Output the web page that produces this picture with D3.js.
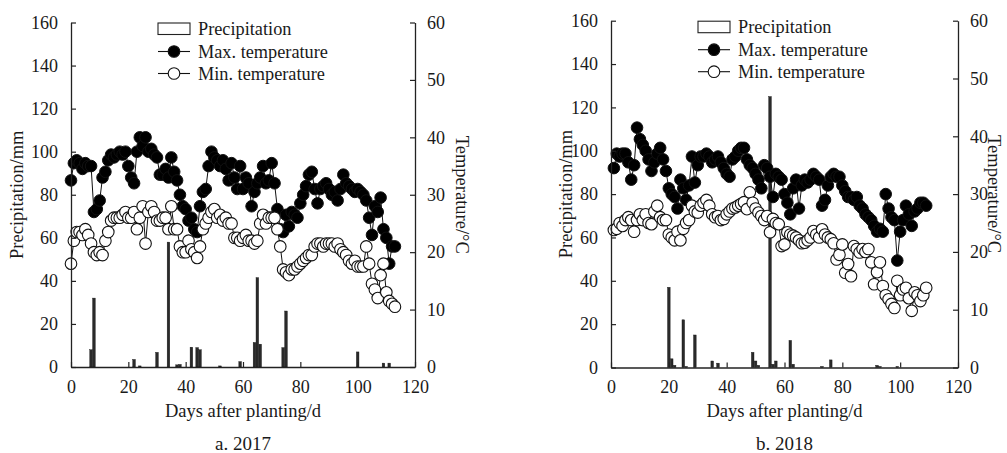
<!DOCTYPE html>
<html><head><meta charset="utf-8">
<script src="https://cdn.jsdelivr.net/npm/d3@7"></script>
<style>
body{margin:0;background:#fff}
svg{display:block}
text{font-family:"Liberation Serif","Times New Roman",serif;fill:#1a1a1a}
</style>
</head><body>
<svg id="chart" width="1007" height="453"></svg>
<script>
// ---------- data ----------
const xTickValues = [0, 20, 40, 60, 80, 100, 120];
const precipTickValues = [0, 20, 40, 60, 80, 100, 120, 140, 160];
const tempTickValues = [0, 10, 20, 30, 40, 50, 60];
const legendLabels = ["Precipitation", "Max. temperature", "Min. temperature"];
const xAxisTitle = "Days after planting/d";
const leftAxisTitle = "Precipitation/mm";
const rightAxisTitle = "Temperature/°C";

// 2017 (first day = 0)
const firstDay2017 = 0;
const maxTemp2017 = [32.5,35.5,36,35.5,34.5,35.5,35,35,27,27.5,29,33,34,36,37,36.5,37,37.5,37,37.5,
  35,33,32,37.5,40,38.5,40,37.5,38,37,36.5,33.5,33.5,34.5,33,36.5,34,32.5,30,28,
  27.5,25.5,26,24,23.5,28,30.5,31,35,37.5,36.5,36,35,36,34.5,32.5,35.5,33,31,35,
  31,33,32,28,30.5,32,33,35,32,32.5,35.5,32,27.5,24,23.5,26.5,24.5,27,26.5,26,
  28.5,30,31.5,33.5,34,31,28.5,31,31.5,32,31,30,30.5,29,31,33.5,32,31.5,31,30.5,
  31,30.5,30,29,26,23,28,27,29.5,24,22.5,18,21,21];
const minTemp2017 = [18,22,23.5,23.5,23,24,23,21.5,20,19.5,20,19.5,22,23.5,25.5,26,26,26,26.5,27,
  26,26,27,24,26,28,21.5,27,28,27,25.5,25.5,26,26,24,28,24,24,21,20,
  20,22,20.5,20,19,21,24,25,26,27,27.5,26,26.5,25.5,26,25,25,22.5,22.5,22,
  22.5,23,22,22,21.5,22,25,26.5,25,26,26,26,24,21,17,16.5,16,17,17,17.5,
  18,18.5,19,19.5,19.5,21,21.5,21.5,21,21.5,21.5,21.5,21,21.5,20.5,20,19.5,18.5,18,18.5,
  17.5,17.5,17.5,21,18,14.5,13.5,12,16,18,13,11.5,11,10.5];
const precipDays2017 = [7, 8, 22, 24, 30, 34, 37, 38, 42, 44, 45, 52, 59, 64, 65, 66, 74, 75, 100, 109, 111];
const precipMm2017   = [8, 32, 3.5, 0.5, 6.8, 58, 1, 1.2, 9.2, 9, 8, 0.5, 2.5, 11.4, 41.5, 10.6, 9, 26, 7, 1.8, 1.8];

// 2018 (first day = 1)
const firstDay2018 = 1;
const maxTemp2018 = [34.5,37,36.5,37,37,35.5,32.5,35,41.5,39.5,38.5,37.5,36,34,35.5,37,38,36,34,31,
  30,29.5,27.5,32.5,31,29,31.5,36.5,32,35,36.5,36.5,37,36.5,35.5,36,36.5,35.5,34.5,33.5,
  33,36,36.5,37.5,38,38,36,35,34.5,33.5,32.5,31,35,34.5,33,29.5,33.5,33,32.5,30,
  28.5,26.5,31,32.5,27.5,31.5,32.5,32,32.5,33.5,33,32.5,28,29,31.5,33,33.5,33,33,31.5,
  30.5,29.5,29.5,29,29.5,28,27.5,26.5,26,25.5,24.5,23.5,24,23.5,30,27.5,26,25.5,18.5,23.5,
  25.5,28,26.5,24.5,27,27.5,28.5,28.5,28];
const minTemp2018 = [23.8,24,25,24.5,25.5,26,25.5,23.5,25.5,26.5,25.5,26.5,25,24.8,27,28,26,25.5,25.5,23,
  22.5,22,23.5,22,24,25,25.5,28,27,26.8,28,28.5,29,28,26.5,26,26.2,25.5,25.7,26.5,
  27,27.5,27.7,28,28.3,28.6,27.4,30.3,28.5,27.5,26.8,26.2,25.5,26.2,23.4,25.7,25,24.8,21,21.3,
  23.4,23,22.8,22.5,22,21.5,21.6,22,22.5,23.6,23,22.5,23.9,23,22.5,22.2,21.5,18.7,19.5,21.3,
  16.4,17.9,15.8,21,20.5,19.9,20.5,20,20.5,18.2,14.4,16.5,18.2,14.1,12.5,11.8,11,10.3,15,12.5,
  13.5,13.8,12,9.8,13,12.5,11.5,12.5,13.8];
const precipDays2018 = [20, 21, 22, 25, 26, 29, 35, 37, 49, 50, 51, 55, 56, 57, 62, 63, 73, 76, 92, 93, 99];
const precipMm2018   = [37, 4, 1, 22, 0.5, 15, 3, 2, 7, 3, 1, 125, 1.5, 3, 12.5, 1.5, 0.5, 3.5, 1, 0.5, 0.5];

// ---------- drawing ----------
const svg = d3.select("#chart");
const TICK_FONT = 18;
const TITLE_FONT = 18.5;
const LEGEND_FONT = 18.3;
const LABEL_FONT = 19;

function drawPanel(cfg) {
  const g = svg.append("g");
  const x = d3.scaleLinear().domain([0, 120]).range([cfg.x0, cfg.x1]);
  const yP = d3.scaleLinear().domain([0, 160]).range([cfg.yBot, cfg.yTop]);
  const yT = d3.scaleLinear().domain([0, 60]).range([cfg.yBot, cfg.yTop]);

  // precipitation bars
  const bars = cfg.pDays.map((d, i) => ({day: d, mm: cfg.pMm[i]}));
  const bw = 2.6;
  g.append("g").selectAll("rect").data(bars).join("rect")
    .attr("x", d => x(d.day) - bw / 2)
    .attr("y", d => yP(d.mm))
    .attr("width", bw)
    .attr("height", d => yP(0) - yP(d.mm))
    .attr("fill", "#2a2a2a").attr("stroke", "#111").attr("stroke-width", 0.4);

  const maxPts = cfg.maxT.map((v, i) => ({day: cfg.first + i, t: v}));
  const minPts = cfg.minT.map((v, i) => ({day: cfg.first + i, t: v}));
  const line = d3.line().x(d => x(d.day)).y(d => yT(d.t));
  const R = 5.8;

  g.append("path").datum(maxPts).attr("d", line)
    .attr("fill", "none").attr("stroke", "#111").attr("stroke-width", 1);
  g.append("g").selectAll("circle").data(maxPts).join("circle")
    .attr("cx", d => x(d.day)).attr("cy", d => yT(d.t)).attr("r", R)
    .attr("fill", "#000").attr("stroke", "#111").attr("stroke-width", 1);

  g.append("path").datum(minPts).attr("d", line)
    .attr("fill", "none").attr("stroke", "#111").attr("stroke-width", 1);
  g.append("g").selectAll("circle").data(minPts).join("circle")
    .attr("cx", d => x(d.day)).attr("cy", d => yT(d.t)).attr("r", R)
    .attr("fill", "#fff").attr("stroke", "#111").attr("stroke-width", 1.1);

  // axes
  const styleAxis = sel => {
    sel.attr("font-family", null).attr("font-size", null);
    sel.select(".domain").attr("stroke", "#222").attr("stroke-width", 1.3);
    sel.selectAll(".tick line").attr("stroke", "#222").attr("stroke-width", 1.2);
    sel.selectAll(".tick text").style("font-size", TICK_FONT + "px").attr("fill", "#1a1a1a");
  };
  g.append("g").attr("transform", `translate(0,${cfg.yBot})`)
    .call(d3.axisBottom(x).tickValues(xTickValues).tickSize(-5).tickSizeOuter(0).tickPadding(13))
    .call(styleAxis);
  g.append("g").attr("transform", `translate(${cfg.x0},0)`)
    .call(d3.axisLeft(yP).tickValues(precipTickValues).tickSize(-5).tickSizeOuter(0).tickPadding(13))
    .call(styleAxis);
  g.append("g").attr("transform", `translate(${cfg.x1},0)`)
    .call(d3.axisRight(yT).tickValues(tempTickValues).tickSize(-5).tickSizeOuter(0).tickPadding(12))
    .call(styleAxis);

  // titles
  const cx = (cfg.x0 + cfg.x1) / 2;
  g.append("text").attr("x", cx).attr("y", 417).attr("text-anchor", "middle")
    .style("font-size", TITLE_FONT + "px").text(xAxisTitle);
  g.append("text").attr("x", cx).attr("y", 450).attr("text-anchor", "middle")
    .style("font-size", LABEL_FONT + "px").text(cfg.label);
  const midY = (cfg.yTop + cfg.yBot) / 2;
  g.append("text").attr("transform", `translate(${cfg.leftTitleX},${midY}) rotate(-90)`)
    .attr("text-anchor", "middle").attr("dominant-baseline", "central")
    .style("font-size", TITLE_FONT + "px").text(leftAxisTitle);
  g.append("text").attr("transform", `translate(${cfg.rightTitleX},${midY}) rotate(90)`)
    .attr("text-anchor", "middle").attr("dominant-baseline", "central")
    .style("font-size", TITLE_FONT + "px").text(rightAxisTitle);

  // legend
  const lx = cfg.x0 + 87, lw = 32;
  const lg = g.append("g");
  lg.append("rect").attr("x", lx).attr("y", cfg.yTop + 0.5).attr("width", lw).attr("height", 11.5)
    .attr("fill", "#fff").attr("stroke", "#222").attr("stroke-width", 1.1);
  const rows = [cfg.yTop + 29, cfg.yTop + 51];
  rows.forEach((ry, i) => {
    lg.append("line").attr("x1", lx).attr("x2", lx + lw).attr("y1", ry).attr("y2", ry)
      .attr("stroke", "#111").attr("stroke-width", 1.1);
    lg.append("circle").attr("cx", lx + lw / 2).attr("cy", ry).attr("r", R)
      .attr("fill", i === 0 ? "#000" : "#fff").attr("stroke", "#111").attr("stroke-width", 1.1);
  });
  const ty = [cfg.yTop + 6.5, cfg.yTop + 29, cfg.yTop + 51];
  legendLabels.forEach((t, i) => {
    lg.append("text").attr("x", lx + lw + 8).attr("y", ty[i]).attr("dominant-baseline", "central")
      .style("font-size", LEGEND_FONT + "px").text(t);
  });
}

drawPanel({x0: 71, x1: 415, yTop: 22.5, yBot: 367, leftTitleX: 17, rightTitleX: 462,
  label: "a. 2017", first: firstDay2017, maxT: maxTemp2017, minT: minTemp2017,
  pDays: precipDays2017, pMm: precipMm2017});
drawPanel({x0: 611, x1: 958, yTop: 20.7, yBot: 367.5, leftTitleX: 566, rightTitleX: 994,
  label: "b. 2018", first: firstDay2018, maxT: maxTemp2018, minT: minTemp2018,
  pDays: precipDays2018, pMm: precipMm2018});
</script>
</body></html>
